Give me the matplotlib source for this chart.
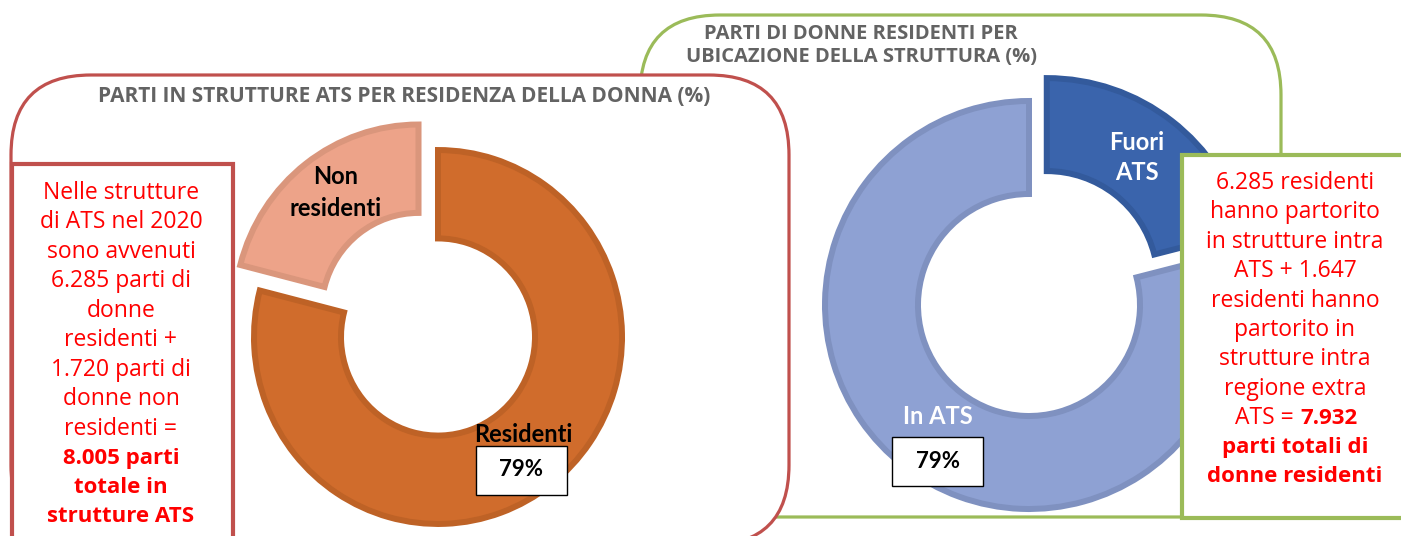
import numpy as np
import matplotlib.pyplot as plt
from matplotlib.patches import FancyBboxPatch, Rectangle

W, H = 1401, 536

# left donut: births in ATS structures by residence of the mother
left_labels = ['Residenti', 'Non residenti']
left_values = [79, 21]
left_colors = ['#D06C2C', '#EDA389']
left_edges = ['#BE6226', '#DA967C']
left_explode = [0, 0.17]

# right donut: births of resident women by location of the structure
right_labels = ['Fuori ATS', 'In ATS']
right_values = [21, 79]
right_colors = ['#3A64AC', '#8EA1D3']
right_edges = ['#335A9C', '#7F91C0']
right_explode = [0.14, 0]

left_title = 'PARTI IN STRUTTURE ATS PER RESIDENZA DELLA DONNA (%)'
right_title = ['PARTI DI DONNE RESIDENTI PER', 'UBICAZIONE DELLA STRUTTURA (%)']

left_note = ['Nelle strutture', 'di ATS nel 2020', 'sono avvenuti', '6.285 parti di',
             'donne', 'residenti +', '1.720 parti di', 'donne non', 'residenti =',
             '8.005 parti', 'totale in', 'strutture ATS']
left_note_bold = [False] * 9 + [True] * 3

right_note = ['6.285 residenti', 'hanno partorito', 'in strutture intra', 'ATS + 1.647',
              'residenti hanno', 'partorito in', 'strutture intra', 'regione extra',
              ('ATS =', '7.932'), 'parti totali di', 'donne residenti']
right_note_bold = [False] * 8 + [None, True, True]

RED = '#C0504D'
GREEN = '#9BBB59'
GREY = '#636363'
NOTE_FONT = 'Open Sans'
LABEL_FONT = 'Lato'
NOTE_SIZE = 16.5
NOTE_BOLD_SIZE = 16

fig = plt.figure(figsize=(W / 100, H / 100), dpi=100)

# background: the two rounded frames
bg = fig.add_axes([0, 0, 1, 1], zorder=0)
bg.set_xlim(0, W)
bg.set_ylim(H, 0)
bg.axis('off')
bg.add_patch(FancyBboxPatch((640, 15), 641, 502, boxstyle='round,pad=0,rounding_size=80',
                            fc='white', ec=GREEN, lw=2.3))
bg.add_patch(FancyBboxPatch((11, 75), 778, 470, boxstyle='round,pad=0,rounding_size=80',
                            fc='white', ec=RED, lw=2.3))


def donut(cx, cy, rx, ry, r_in, values, colors, edges, explode):
    m = 1.3
    a = fig.add_axes([(cx - m * rx) / W, (H - cy - m * ry) / H, 2 * m * rx / W, 2 * m * ry / H],
                     zorder=1)
    lw = 6
    r_out = 1 - lw / 2 / rx
    width = r_out - (r_in + lw / 2) / rx
    wedges, _ = a.pie(values, radius=r_out, startangle=90, counterclock=False,
                      explode=explode, colors=colors,
                      wedgeprops=dict(width=width, linewidth=lw * 0.72))
    for w, e in zip(wedges, edges):
        w.set_edgecolor(e)
    a.set_aspect('auto')
    a.set_xlim(-m, m)
    a.set_ylim(-m, m)
    a.axis('off')
    return a


donut(438, 337, 187, 190, 94, left_values, left_colors, left_edges, left_explode)
donut(1029, 305, 207, 207, 108, right_values, right_colors, right_edges, right_explode)

# foreground: notes, titles and labels
fg = fig.add_axes([0, 0, 1, 1], zorder=3)
fg.set_xlim(0, W)
fg.set_ylim(H, 0)
fg.axis('off')
fg.patch.set_visible(False)

fg.text(404, 96, left_title, ha='center', va='center', color=GREY,
        fontsize=15, fontweight='bold', family=NOTE_FONT)
for i, line in enumerate(right_title):
    fg.text(861, 34 + 23 * i, line, ha='center', va='center', color=GREY,
            fontsize=14.5, fontweight='bold', family=NOTE_FONT)

# left note box
fg.add_patch(Rectangle((12, 164), 221, 400, fc='white', ec=RED, lw=3))
for i, (line, b) in enumerate(zip(left_note, left_note_bold)):
    fg.text(121, 193 + 29.45 * i, line, ha='center', va='center', color='red',
            fontsize=NOTE_BOLD_SIZE if b else NOTE_SIZE,
            fontweight='bold' if b else 'normal', family=NOTE_FONT)

# right note box
fg.add_patch(Rectangle((1182, 155), 260, 363, fc='white', ec=GREEN, lw=3))
for i, (line, b) in enumerate(zip(right_note, right_note_bold)):
    y = 183 + 29.4 * i
    if isinstance(line, tuple):
        fg.text(1294, y, line[0], ha='right', va='center', color='red',
                fontsize=NOTE_SIZE, family=NOTE_FONT)
        fg.text(1300, y, line[1], ha='left', va='center', color='red',
                fontsize=NOTE_BOLD_SIZE, fontweight='bold', family=NOTE_FONT)
    else:
        fg.text(1295, y, line, ha='center', va='center', color='red',
                fontsize=NOTE_BOLD_SIZE if b else NOTE_SIZE,
                fontweight='bold' if b else 'normal', family=NOTE_FONT)

# donut labels
for j, part in enumerate(left_labels[1].split(' ', 1)):
    fg.text(336, 177 + 32 * j, part, ha='center', va='center', color='black',
            fontsize=17, fontweight='bold', family=LABEL_FONT)
fg.text(523, 434, left_labels[0], ha='center', va='center', color='black',
        fontsize=17, fontweight='bold', family=LABEL_FONT)
fg.add_patch(Rectangle((476, 446), 91, 49, fc='white', ec='black', lw=1))
fg.text(521, 470, f'{left_values[0]}%', ha='center', va='center', color='black',
        fontsize=16, fontweight='bold', family=LABEL_FONT)

for j, part in enumerate(right_labels[0].split(' ', 1)):
    fg.text(1137, 142 + 31 * j, part, ha='center', va='center', color='white',
            fontsize=17, fontweight='bold', family=LABEL_FONT)
fg.text(938, 417, right_labels[1], ha='center', va='center', color='white',
        fontsize=17, fontweight='bold', family=LABEL_FONT)
fg.add_patch(Rectangle((892, 437), 91, 49, fc='white', ec='black', lw=1))
fg.text(938, 462, f'{right_values[1]}%', ha='center', va='center', color='black',
        fontsize=16, fontweight='bold', family=LABEL_FONT)

fig.savefig('out.png', dpi=100)
